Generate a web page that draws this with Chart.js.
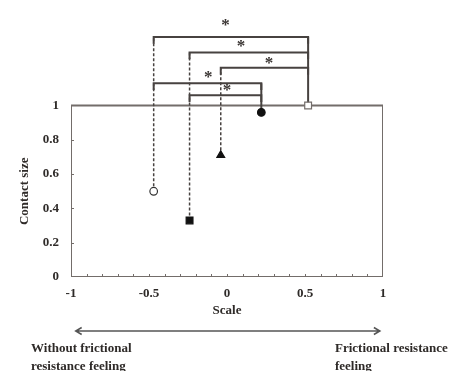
<!DOCTYPE html>
<html>
<head>
<meta charset="utf-8">
<script src="https://cdn.jsdelivr.net/npm/chart.js@4.4.1/dist/chart.umd.min.js"></script>
<style>
html, body { margin: 0; padding: 0; background: #fff; }
#wrap { width: 450px; height: 371px; }
</style>
</head>
<body>
<div id="wrap"><canvas id="contact"></canvas></div>
<script>
// markers: open circle, filled square, triangle, filled circle, open square
var scaleX = [-0.47, -0.24, -0.04, 0.22, 0.52];
var contactSize = [0.5, 0.33, 0.71, 0.96, 1.0];

// significance brackets (indexes into the marker arrays)
var pairFrom = [0, 1, 2, 0, 1];
var pairTo = [4, 4, 4, 3, 3];
var bracketY = [1.40, 1.31, 1.22, 1.13, 1.06];
var starX = [-0.01, 0.09, 0.27, -0.12, 0.0];
var starY = [1.47, 1.35, 1.25, 1.17, 1.09];

var xTicks = [-1, -0.5, 0, 0.5, 1];
var yTicks = [0, 0.2, 0.4, 0.6, 0.8, 1];

var frameColor = '#736d6a';
var lineColor = '#474240';
var textColor = '#2e2a28';
var serif = '"Liberation Serif", "Times New Roman", serif';

var datasets = [];

// plot frame 0..1
datasets.push({
    data: [{x: -1, y: 0}, {x: 1, y: 0}, {x: 1, y: 1}, {x: -1, y: 1}, {x: -1, y: 0}],
    showLine: true,
    borderColor: frameColor,
    borderWidth: 2,
    pointRadius: 0,
    order: 3
});

// stems from each marker up to its highest bracket
var stemTop = scaleX.map(function () { return 0; });
for (var i = 0; i < bracketY.length; i++) {
    stemTop[pairFrom[i]] = Math.max(stemTop[pairFrom[i]], bracketY[i]);
    stemTop[pairTo[i]] = Math.max(stemTop[pairTo[i]], bracketY[i]);
}
for (var k = 0; k < scaleX.length; k++) {
    datasets.push({
        data: [{x: scaleX[k], y: contactSize[k]}, {x: scaleX[k], y: stemTop[k]}],
        showLine: true,
        borderColor: lineColor,
        borderWidth: k < 3 ? 1.5 : 2,
        borderDash: k < 3 ? [3, 2] : [],
        pointRadius: 0,
        order: 2
    });
}

// brackets
for (var b = 0; b < bracketY.length; b++) {
    var xa = scaleX[pairFrom[b]], xb = scaleX[pairTo[b]];
    datasets.push({
        data: [{x: xa, y: bracketY[b] - 0.04}, {x: xa, y: bracketY[b]},
               {x: xb, y: bracketY[b]}, {x: xb, y: bracketY[b] - 0.04}],
        showLine: true,
        borderColor: lineColor,
        borderWidth: 2,
        pointRadius: 0,
        order: 2
    });
}

// markers
datasets.push({
    data: scaleX.map(function (v, j) { return {x: v, y: contactSize[j]}; }),
    pointStyle: ['circle', 'rect', 'triangle', 'circle', 'rect'],
    pointRadius: [3.8, 4.8, 4.5, 3.8, 4.8],
    pointBackgroundColor: ['#fff', '#111', '#111', '#111', '#fff'],
    pointBorderColor: ['#333', '#111', '#111', '#111', frameColor],
    pointBorderWidth: 1.2,
    showLine: false,
    order: 0
});

var decor = {
    id: 'decor',
    afterDatasetsDraw: function (chart) {
        var ctx = chart.ctx, x = chart.scales.x, y = chart.scales.y;
        var y0 = y.getPixelForValue(0), xl = x.getPixelForValue(-1);
        ctx.save();

        // inner tick marks
        ctx.strokeStyle = frameColor;
        ctx.lineWidth = 1;
        ctx.beginPath();
        for (var v = -9; v <= 9; v++) {
            var px = Math.round(x.getPixelForValue(v / 10)) + 0.5;
            ctx.moveTo(px, y0);
            ctx.lineTo(px, y0 - 3);
        }
        yTicks.forEach(function (t) {
            if (t > 0 && t < 1) {
                var py = Math.round(y.getPixelForValue(t)) + 0.5;
                ctx.moveTo(xl, py);
                ctx.lineTo(xl + 3, py);
            }
        });
        ctx.stroke();

        // significance stars
        ctx.fillStyle = '#3a3533';
        ctx.font = 'bold 17px ' + serif;
        ctx.textAlign = 'center';
        ctx.textBaseline = 'middle';
        for (var s = 0; s < starX.length; s++) {
            ctx.fillText('*', x.getPixelForValue(starX[s]), y.getPixelForValue(starY[s]) + 1);
        }

        // y title, centred on the 0..1 frame
        ctx.fillStyle = textColor;
        ctx.font = 'bold 13px ' + serif;
        ctx.save();
        ctx.translate(25, (y.getPixelForValue(0) + y.getPixelForValue(1)) / 2);
        ctx.rotate(-Math.PI / 2);
        ctx.fillText('Contact size', 0, 0);
        ctx.restore();

        // double arrow
        var ay = 331, a1 = x.getPixelForValue(-0.97), a2 = x.getPixelForValue(0.98);
        ctx.strokeStyle = '#555';
        ctx.lineWidth = 1.5;
        ctx.beginPath();
        ctx.moveTo(a1, ay); ctx.lineTo(a2, ay);
        ctx.moveTo(a1 + 6, ay - 3.5); ctx.lineTo(a1, ay); ctx.lineTo(a1 + 6, ay + 3.5);
        ctx.moveTo(a2 - 6, ay - 3.5); ctx.lineTo(a2, ay); ctx.lineTo(a2 - 6, ay + 3.5);
        ctx.stroke();

        // end captions
        ctx.textAlign = 'left';
        ctx.fillText('Without frictional', 31, 349);
        ctx.fillText('resistance feeling', 31, 367);
        ctx.fillText('Frictional resistance', 335, 349);
        ctx.fillText('feeling', 335, 367);
        ctx.restore();
    }
};

new Chart(document.getElementById('contact'), {
    type: 'scatter',
    data: { datasets: datasets },
    plugins: [decor],
    options: {
        responsive: true,
        maintainAspectRatio: false,
        animation: false,
        layout: { padding: { top: 16, right: 67, bottom: 49, left: 0 } },
        plugins: {
            legend: { display: false },
            tooltip: { enabled: false }
        },
        scales: {
            x: {
                type: 'linear',
                min: -1,
                max: 1,
                afterBuildTicks: function (scale) {
                    scale.ticks = xTicks.map(function (v) { return {value: v}; });
                },
                afterFit: function (scale) { scale.height = 45; },
                grid: { display: false, drawTicks: false },
                border: { display: false },
                ticks: {
                    padding: 9,
                    color: textColor,
                    font: { family: serif, size: 13, weight: 'bold' },
                    callback: function (v) { return String(v); }
                },
                title: {
                    display: true,
                    text: 'Scale',
                    color: textColor,
                    font: { family: serif, size: 13, weight: 'bold' },
                    padding: { top: 4, bottom: 4 }
                }
            },
            y: {
                type: 'linear',
                min: 0,
                max: 1.5,
                afterBuildTicks: function (scale) {
                    scale.ticks = yTicks.map(function (v) { return {value: v}; });
                },
                afterFit: function (scale) { scale.width = 71; },
                grid: { display: false, drawTicks: false },
                border: { display: false },
                ticks: {
                    padding: 12,
                    color: textColor,
                    font: { family: serif, size: 13, weight: 'bold' },
                    callback: function (v) { return String(v); }
                }
            }
        }
    }
});
</script>
</body>
</html>
